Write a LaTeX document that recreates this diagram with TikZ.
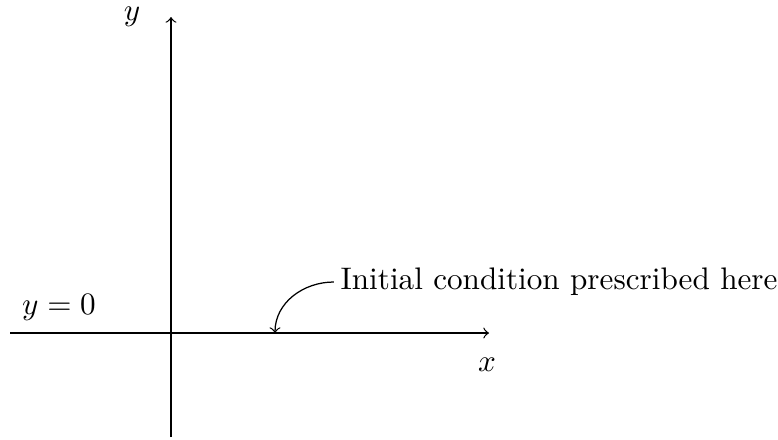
\documentclass[tikz,border=0pt]{standalone}
\begin{document}
\begin{tikzpicture}[x=0.01127cm,y=-0.01127cm,
  axis/.style={->},
  lbl/.style={inner sep=0pt}]
\useasboundingbox (0,0) rectangle (778,439);
\coordinate (xs) at (10,333);
\coordinate (xe) at (489,333);
\coordinate (ys) at (171,437);
\coordinate (ye) at (171,17);
\draw[axis] (xs) -- (xe);
\draw[axis] (ys) -- (ye);
\node[lbl] (ylab) at (132,17) {$y$};
\node[lbl] (xlab) at (487,365) {$x$};
\node[lbl] (y0) at (59,307) {$y=0$};
\node[lbl,anchor=west] (txt) at (340,282) {Initial condition prescribed here};
\coordinate (tip) at (275,333);
\draw[->] ([xshift=-2pt]txt.west) to[out=180,in=90] (tip);
\end{tikzpicture}
\end{document}
